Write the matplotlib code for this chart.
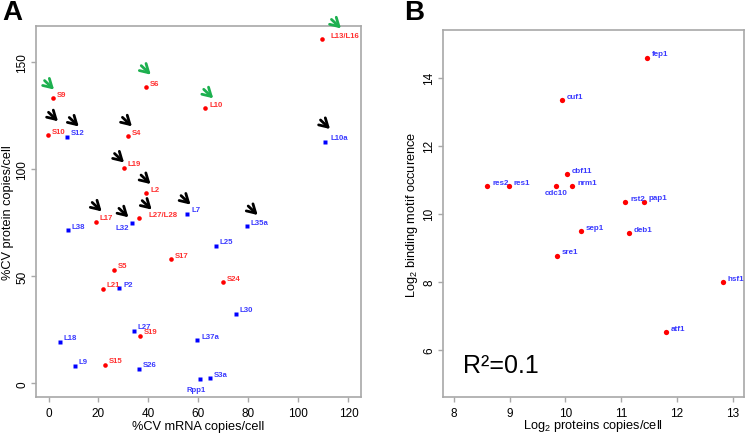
import matplotlib
matplotlib.use('Agg')
import matplotlib.pyplot as plt
from matplotlib.transforms import offset_copy

plt.rcParams['font.family'] = ['Liberation Sans', 'DejaVu Sans']
plt.rcParams['mathtext.fontset'] = 'custom'
plt.rcParams['mathtext.rm'] = 'Liberation Sans'
plt.rcParams['mathtext.it'] = 'Liberation Sans:italic'

# panel A: ribosomal proteins, %CV mRNA vs %CV protein
red_names = ['S9', 'S6', 'L10', 'L13/L16', 'S10', 'S4', 'L19', 'L2', 'L17',
             'L27/L28', 'S17', 'S5', 'L21', 'S19', 'S15', 'S24']
red_x = [1.7, 38.9, 62.7, 109.4, -0.2, 31.9, 30.1, 39.1, 19.0, 36.2, 49.0,
         26.1, 21.7, 36.5, 22.7, 69.9]
red_y = [133.2, 138.3, 128.5, 160.7, 115.9, 115.4, 100.7, 88.9, 75.5, 77.1,
         57.9, 53.1, 44.1, 22.1, 8.7, 47.2]

blue_names = ['S12', 'L10a', 'L32', 'L7', 'L35a', 'L38', 'L25', 'P2', 'L30',
              'L27', 'L18', 'L37a', 'L9', 'S26', 'Rpp1', 'S3a']
blue_x = [7.3, 110.5, 33.3, 55.5, 79.4, 7.7, 66.9, 28.3, 75.0, 34.2, 4.5,
          59.5, 10.6, 36.3, 60.6, 64.5]
blue_y = [115.2, 112.9, 74.9, 79.3, 73.5, 71.5, 64.2, 44.5, 32.5, 24.6, 19.4,
          20.2, 8.1, 6.7, 1.9, 2.3]

green_arrows = ['S9', 'S6', 'L10', 'L13/L16']
black_arrows = ['S10', 'S12', 'S4', 'L19', 'L2', 'L17', 'L32', 'L27/L28',
                'L7', 'L35a', 'L10a']

# panel B: transcription factors
tf_names = ['fep1', 'cuf1', 'cbf11', 'res2', 'res1', 'cdc10', 'nrm1', 'rst2',
            'pap1', 'sep1', 'deb1', 'sre1', 'hsf1', 'atf1']
tf_prot = [11.46, 9.94, 10.03, 8.60, 8.98, 9.83, 10.12, 11.07, 11.40, 10.28,
           11.14, 9.85, 12.82, 11.80]
tf_motif = [14.59, 13.34, 11.16, 10.81, 10.81, 10.81, 10.81, 10.34, 10.35,
            9.48, 9.43, 8.76, 7.99, 6.51]

# layout tweaks (pixel offsets)
arrow_tip = {'S9': (1.3, 8.7), 'S6': (5, 12.7), 'L10': (8, 10),
             'L13/L16': (19, 11), 'S10': (10, 14), 'S12': (12, 10.3),
             'S4': (3.7, 10), 'L19': (0.3, 5.3), 'L2': (4.3, 9),
             'L17': (5.7, 10.3), 'L32': (-3.3, 5.7), 'L27/L28': (12.7, 8.7),
             'L7': (3.3, 9), 'L35a': (10.7, 11), 'L10a': (5.3, 12.7)}
label_off_a = {'L32': (-2.5, -4.7, 'right'), 'Rpp1': (-4.3, -10.3, 'center'),
               'L27/L28': (9.3, 3.7, 'left'), 'L13/L16': (9, 4.3, 'left'),
               'L10a': (6, 4.3, 'left')}
label_off_b = {'cdc10': (0, -6, 'center')}

RED = '#ff0000'
RED_TXT = '#ff3030'
BLUE = '#0000ff'
BLUE_TXT = '#3a3aff'
GREEN = '#1db04f'
GRAY = '#a8a8a8'

fig = plt.figure(figsize=(7.47, 4.35), dpi=100)
axA = fig.add_axes([0.0482, 0.0851, 0.435, 0.853])
axB = fig.add_axes([0.5926, 0.0857, 0.4034, 0.843])


def style_axes(ax):
    for s in ax.spines.values():
        s.set_color(GRAY)
        s.set_linewidth(1.2)
    ax.tick_params(colors=GRAY, labelcolor='black', labelsize=8.5,
                   length=3.6, width=1.0)
    ax.tick_params(axis='y', labelrotation=90, pad=1.8)
    for t in ax.get_yticklabels():
        t.set_va('center')


def put_label(ax, x, y, name, color, offs, default, size):
    dx, dy, ha = offs.get(name, default)
    tr = offset_copy(ax.transData, fig=fig, x=dx, y=dy, units='dots')
    ax.text(x, y, name, transform=tr, ha=ha, va='center', color=color,
            fontsize=size, fontweight='bold')


# ---- A ----
axA.plot(red_x, red_y, 'o', color=RED, ms=3.3, mec='none')
axA.plot(blue_x, blue_y, 's', color=BLUE, ms=3.3, mec='none')
for n, x, y in zip(red_names, red_x, red_y):
    put_label(axA, x, y, n, RED_TXT, label_off_a, (4, 4, 'left'), 5.6)
for n, x, y in zip(blue_names, blue_x, blue_y):
    put_label(axA, x, y, n, BLUE_TXT, label_off_a, (4, 4, 'left'), 5.6)

pts = dict(zip(red_names + blue_names, zip(red_x + blue_x, red_y + blue_y)))
for group, col in ((green_arrows, GREEN), (black_arrows, 'black')):
    for n in group:
        x, y = pts[n]
        tx, ty = arrow_tip[n]
        tip = offset_copy(axA.transData, fig=fig, x=tx, y=ty, units='dots')
        tail = offset_copy(axA.transData, fig=fig, x=tx - 9.5, y=ty + 9,
                           units='dots')
        axA.annotate('', xy=(x, y), xycoords=tip, xytext=(x, y),
                     textcoords=tail, annotation_clip=False,
                     arrowprops=dict(arrowstyle='->,head_length=0.6,head_width=0.35',
                                     lw=2.0, color=col, shrinkA=0, shrinkB=0,
                                     mutation_scale=10))

axA.set_xlim(-5, 125)
axA.set_ylim(-6.4, 167)
axA.set_xticks([0, 20, 40, 60, 80, 100, 120])
axA.set_yticks([0, 50, 100, 150])
style_axes(axA)
axA.set_xlabel('%CV mRNA copies/cell', fontsize=9.2, labelpad=1)
axA.set_ylabel('%CV protein copies/cell', fontsize=9.2, labelpad=2)

# ---- B ----
axB.plot(tf_prot, tf_motif, 'o', color=RED, ms=3.8, mec='none')
for n, x, y in zip(tf_names, tf_prot, tf_motif):
    put_label(axB, x, y, n, BLUE_TXT, label_off_b, (5, 4, 'left'), 5.8)
axB.set_xlim(7.8, 13.2)
axB.set_ylim(4.62, 15.4)
axB.set_xticks([8, 9, 10, 11, 12, 13])
axB.set_yticks([6, 8, 10, 12, 14])
style_axes(axB)
axB.set_xlabel('Log$_2$ proteins copies/cell', fontsize=9.2, labelpad=-1)
axB.set_ylabel('Log$_2$ binding motif occurence', fontsize=9.2, labelpad=2)
axB.text(0.068, 0.086, 'R²=0.1', transform=axB.transAxes, fontsize=18,
         ha='left', va='center')

fig.text(0.003, 1.0, 'A', fontsize=20, fontweight='bold', va='top', ha='left')
fig.text(0.541, 1.0, 'B', fontsize=20, fontweight='bold', va='top', ha='left')

fig.savefig('out.png', dpi=100)
